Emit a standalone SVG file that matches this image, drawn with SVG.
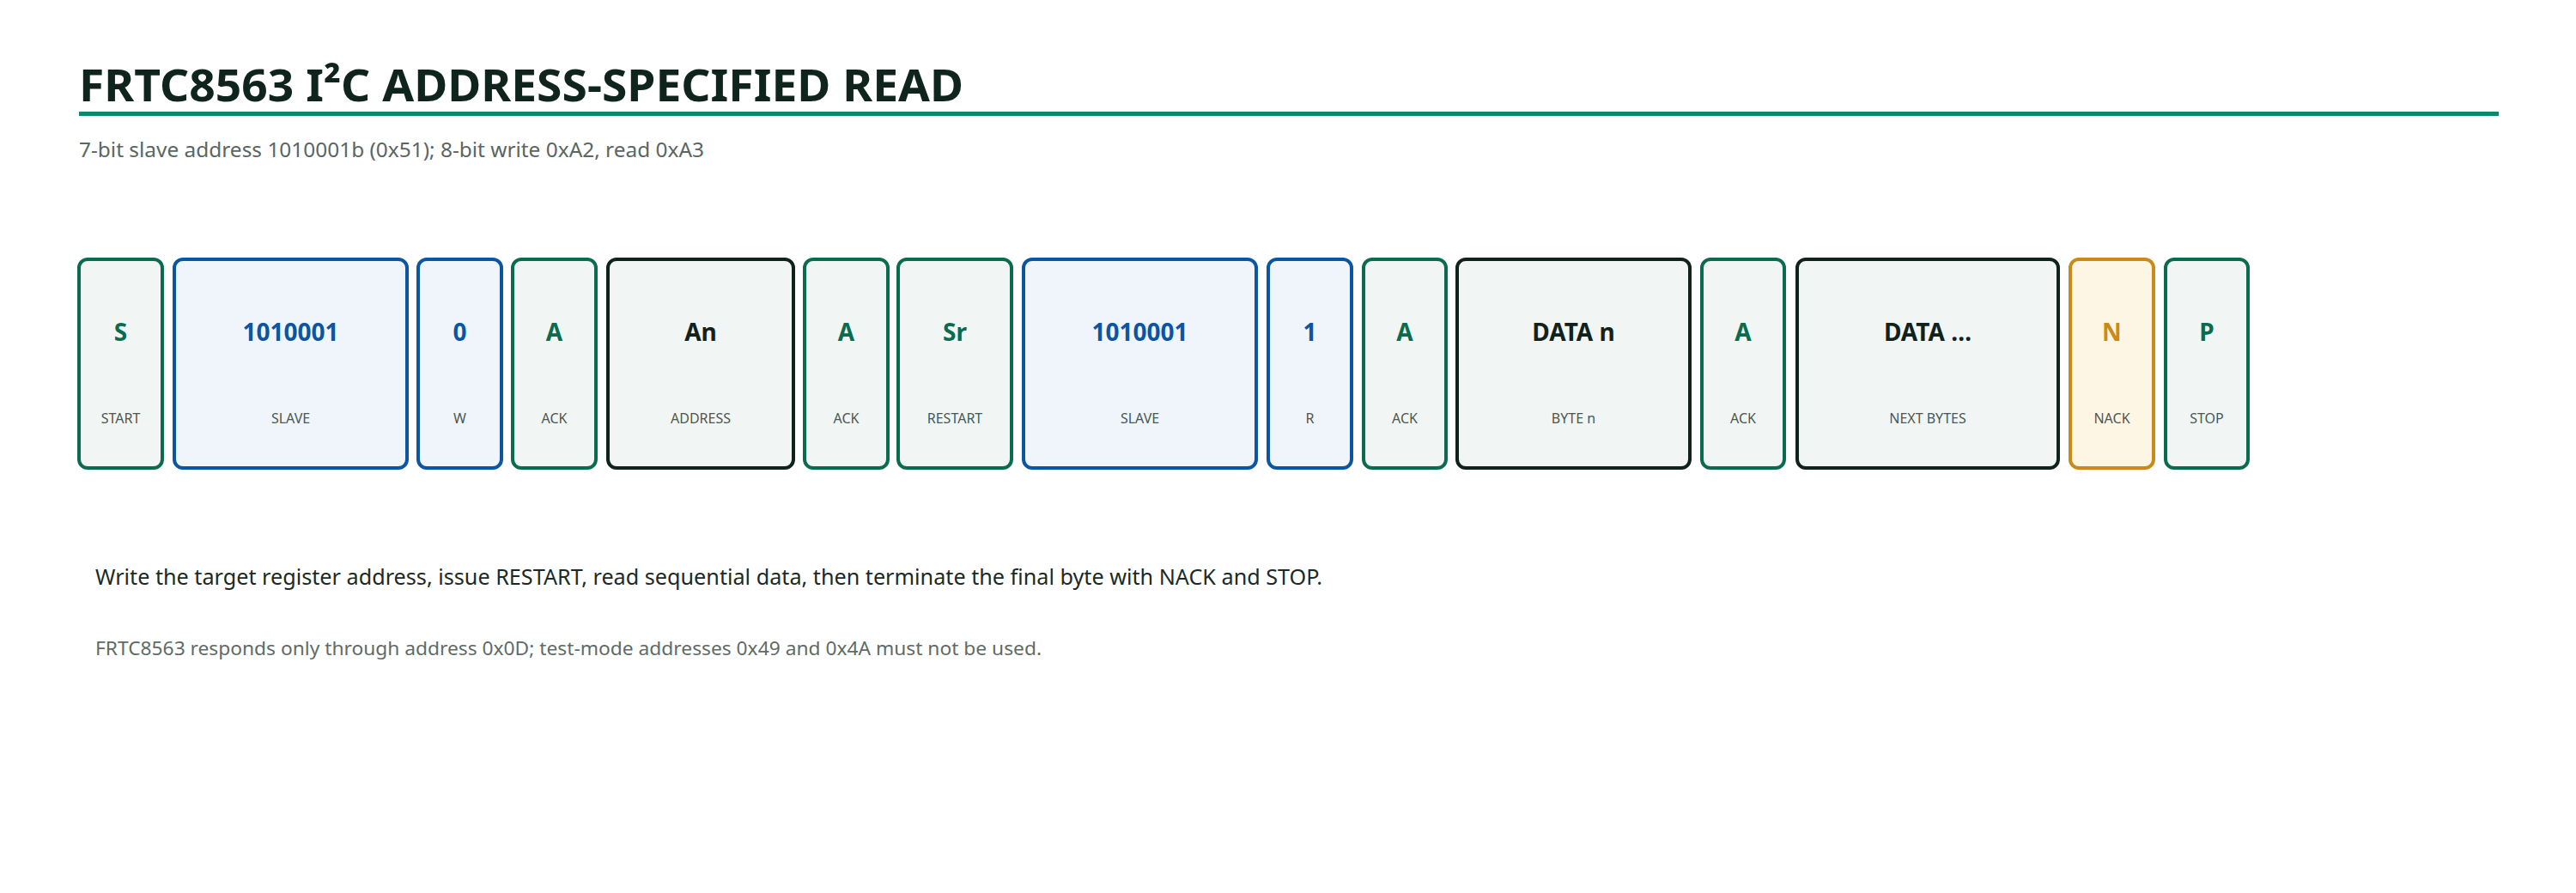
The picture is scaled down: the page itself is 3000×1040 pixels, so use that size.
<svg xmlns="http://www.w3.org/2000/svg" width="3000" height="1040" viewBox="0 0 3000 1040">
<style>
text{font-family:"Noto Sans","Open Sans",sans-serif}
.g rect{fill:#f1f6f4;stroke:#0b6b4f}
.b rect{fill:#eff5fa;stroke:#0b55a3}
.k rect{fill:#f1f5f3;stroke:#10221c}
.o rect{fill:#fdf6e4;stroke:#c98a1a}
rect{stroke-width:4}
.v{font-size:28px;font-weight:bold;text-anchor:middle}
.g .v{fill:#0b6b4f}.b .v{fill:#0b55a3}.k .v{fill:#10221c}.o .v{fill:#c98a1a}
.l{font-size:16px;fill:#4a5853;text-anchor:middle}
</style>
<rect width="3000" height="1040" fill="#fff"/>
<text x="92" y="118" font-size="52" font-weight="bold" fill="#10241e" textLength="1030" lengthAdjust="spacingAndGlyphs">FRTC8563 I²C ADDRESS-SPECIFIED READ</text>
<rect x="92" y="130" width="2818" height="5" fill="#0a8a6c" stroke="none"/>
<text x="92" y="183" font-size="24" fill="#5a6662" textLength="728" lengthAdjust="spacingAndGlyphs">7-bit slave address 1010001b (0x51); 8-bit write 0xA2, read 0xA3</text>
<g id="connectors"></g>
<g id="n1" class="g"><rect x="92" y="302" width="97" height="243" rx="10"/><text class="v" x="140.5" y="397">S</text><text class="l" x="140.5" y="493">START</text></g>
<g id="n2" class="b"><rect x="203" y="302" width="271" height="243" rx="10"/><text class="v" x="338.5" y="397">1010001</text><text class="l" x="338.5" y="493">SLAVE</text></g>
<g id="n3" class="b"><rect x="487" y="302" width="97" height="243" rx="10"/><text class="v" x="535.5" y="397">0</text><text class="l" x="535.5" y="493">W</text></g>
<g id="n4" class="g"><rect x="597" y="302" width="97" height="243" rx="10"/><text class="v" x="645.5" y="397">A</text><text class="l" x="645.5" y="493">ACK</text></g>
<g id="n5" class="k"><rect x="708" y="302" width="216" height="243" rx="10"/><text class="v" x="816" y="397">An</text><text class="l" x="816" y="493">ADDRESS</text></g>
<g id="n6" class="g"><rect x="937" y="302" width="97" height="243" rx="10"/><text class="v" x="985.5" y="397">A</text><text class="l" x="985.5" y="493">ACK</text></g>
<g id="n7" class="g"><rect x="1046" y="302" width="132" height="243" rx="10"/><text class="v" x="1112" y="397">Sr</text><text class="l" x="1112" y="493">RESTART</text></g>
<g id="n8" class="b"><rect x="1192" y="302" width="271" height="243" rx="10"/><text class="v" x="1327.5" y="397">1010001</text><text class="l" x="1327.5" y="493">SLAVE</text></g>
<g id="n9" class="b"><rect x="1477" y="302" width="97" height="243" rx="10"/><text class="v" x="1525.5" y="397">1</text><text class="l" x="1525.5" y="493">R</text></g>
<g id="n10" class="g"><rect x="1588" y="302" width="96" height="243" rx="10"/><text class="v" x="1636" y="397">A</text><text class="l" x="1636" y="493">ACK</text></g>
<g id="n11" class="k"><rect x="1697" y="302" width="271" height="243" rx="10"/><text class="v" x="1832.5" y="397">DATA n</text><text class="l" x="1832.5" y="493">BYTE n</text></g>
<g id="n12" class="g"><rect x="1982" y="302" width="96" height="243" rx="10"/><text class="v" x="2030" y="397">A</text><text class="l" x="2030" y="493">ACK</text></g>
<g id="n13" class="k"><rect x="2093" y="302" width="304" height="243" rx="10"/><text class="v" x="2245" y="397">DATA …</text><text class="l" x="2245" y="493">NEXT BYTES</text></g>
<g id="n14" class="o"><rect x="2411" y="302" width="97" height="243" rx="10"/><text class="v" x="2459.5" y="397">N</text><text class="l" x="2459.5" y="493">NACK</text></g>
<g id="n15" class="g"><rect x="2522" y="302" width="96" height="243" rx="10"/><text class="v" x="2570" y="397">P</text><text class="l" x="2570" y="493">STOP</text></g>
<text x="111" y="681" font-size="26" fill="#1a2a25" textLength="1429" lengthAdjust="spacingAndGlyphs">Write the target register address, issue RESTART, read sequential data, then terminate the final byte with NACK and STOP.</text>
<text x="111" y="763" font-size="22" fill="#5f6b67" textLength="1102" lengthAdjust="spacingAndGlyphs">FRTC8563 responds only through address 0x0D; test-mode addresses 0x49 and 0x4A must not be used.</text>
</svg>
